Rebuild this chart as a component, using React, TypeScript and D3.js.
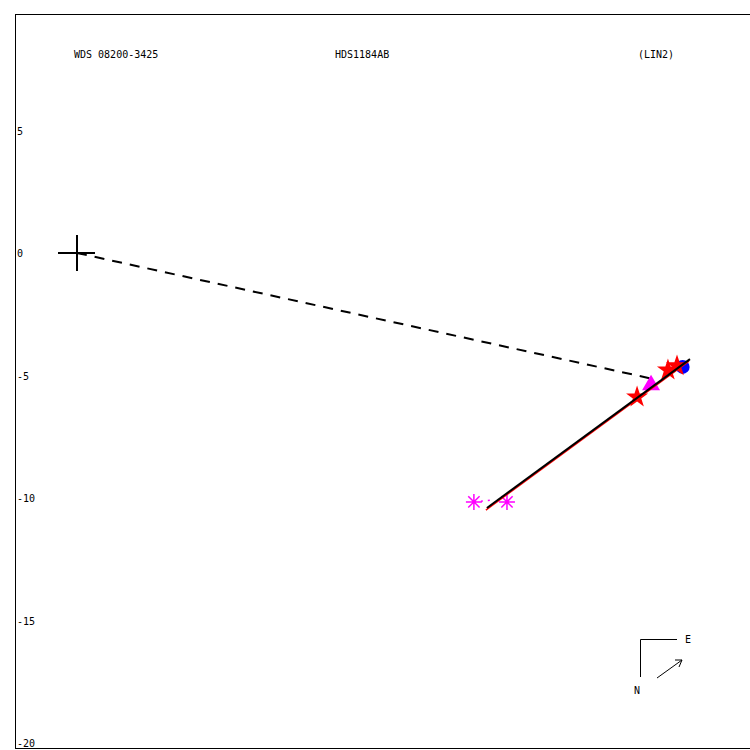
import React from "react";
import * as d3 from "d3";

const titleLeft = "WDS 08200-3425";
const titleMid = "HDS1184AB";
const titleRight = "(LIN2)";
const yTicks = [5, 0, -5, -10, -15, -20];

// fitted linear motion segment [x, y]
const linearFit: [number, number][] = [[16.73, -10.41], [25.02, -4.33]];
// dashed line from primary to predicted position
const dashedLine: [number, number][] = [[0, 0], [23.51, -5.14]];
// observations
const blueCircles: [number, number][] = [[24.72, -4.65]];
const redStars: [number, number][] = [[22.86, -5.88], [24.12, -4.78], [24.49, -4.61]];
const magentaTriangles: [number, number][] = [[23.43, -5.35]];
const magentaAsterisks: [number, number][] = [[16.2, -10.16], [17.55, -10.16]];
const residualDotted: [number, number][] = [[16.2, -10.16], [17.0, -10.08]];

export default function App() {
  const W = 750, H = 750;
  const x = d3.scaleLinear().domain([0, 25]).range([77, 77 + 612.5]);
  const y = d3.scaleLinear().domain([0, -20]).range([253, 743]);
  const line = d3.line<[number, number]>().x(d => x(d[0])).y(d => y(d[1]));
  const star = d3.symbol(d3.symbolStar, 150)()!;
  const tri = d3.symbol(d3.symbolTriangle, 140)()!;
  const ast = (r: number) => {
    const p = d3.path();
    for (let i = 0; i < 4; i++) {
      const a = (i * Math.PI) / 4;
      p.moveTo(-r * Math.cos(a), -r * Math.sin(a));
      p.lineTo(r * Math.cos(a), r * Math.sin(a));
    }
    return p.toString();
  };
  const font = { fontFamily: "DejaVu Sans Mono", fontSize: 10 };
  return (
    <svg width={W} height={H} style={{ position: "absolute", left: 0, top: 0 }}>
      <rect x={0} y={0} width={W} height={H} fill="white" />
      <rect x={15.5} y={14.5} width={760} height={734} fill="none" stroke="black" strokeWidth={1} />
      <text x={74} y={58} {...font}>{titleLeft}</text>
      <text x={335} y={58} {...font}>{titleMid}</text>
      <text x={638} y={58} {...font}>{titleRight}</text>
      {yTicks.map(t => (
        <text key={t} x={17} y={y(t) + 4} {...font}>{t}</text>
      ))}
      {/* origin cross */}
      <line x1={x(0) - 19} x2={x(0) + 18} y1={y(0)} y2={y(0)} stroke="black" strokeWidth={2} />
      <line x1={x(0)} x2={x(0)} y1={y(0) - 18} y2={y(0) + 18} stroke="black" strokeWidth={2} />
      <path d={line(dashedLine)!} fill="none" stroke="black" strokeWidth={2} strokeDasharray="10,8" />
      <path d={line(residualDotted)!} fill="none" stroke="magenta" strokeWidth={1.5} strokeDasharray="2,5" />
      {magentaAsterisks.map((d, i) => (
        <path key={"a" + i} d={ast(8)} transform={`translate(${x(d[0])},${y(d[1])})`} stroke="magenta" strokeWidth={1.5} fill="none" />
      ))}
      {blueCircles.map((d, i) => (
        <circle key={"c" + i} cx={x(d[0])} cy={y(d[1])} r={7} fill="blue" />
      ))}
      {magentaTriangles.map((d, i) => (
        <path key={"t" + i} d={tri} transform={`translate(${x(d[0])},${y(d[1]) + 1})`} fill="magenta" />
      ))}
      {redStars.map((d, i) => (
        <path key={"s" + i} d={star} transform={`translate(${x(d[0])},${y(d[1])})`} fill="red" />
      ))}
      <path d={line(linearFit)!} transform="translate(-1,2)" fill="none" stroke="red" strokeWidth={1.5} />
      <path d={line(linearFit)!} fill="none" stroke="black" strokeWidth={2} />
      {/* compass */}
      <path d="M640.5,677 L640.5,639.5 L677,639.5" fill="none" stroke="black" strokeWidth={1} />
      <text x={685} y={643} {...font}>E</text>
      <text x={634} y={694} {...font}>N</text>
      <line x1={657} y1={678} x2={682} y2={660} stroke="black" strokeWidth={1} />
      <path d="M675,660 L682,660 L679,667" fill="none" stroke="black" strokeWidth={1} />
    </svg>
  );
}
